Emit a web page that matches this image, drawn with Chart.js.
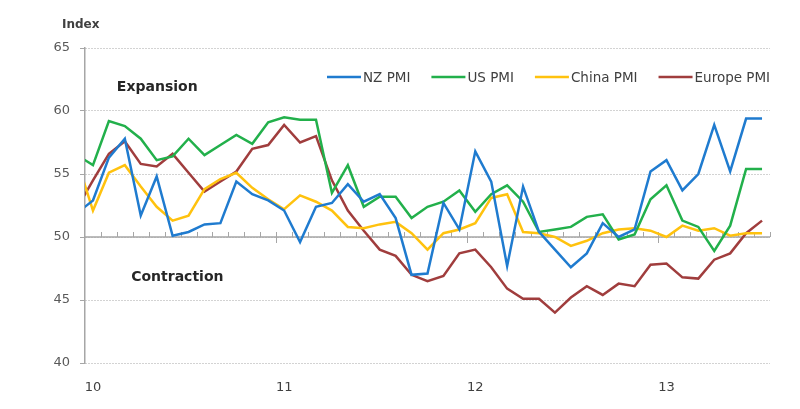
<!DOCTYPE html>
<html>
<head>
<meta charset="utf-8">
<script src="https://cdn.jsdelivr.net/npm/chart.js@4.4.1/dist/chart.umd.min.js"></script>
<style>
  html, body { margin: 0; padding: 0; background: #fff; }
  #wrap { width: 800px; height: 409px; }
</style>
</head>
<body>
<div id="wrap"><canvas id="pmiChart" width="800" height="409"></canvas></div>
<script>
// monthly PMI readings, Dec 2009 .. Jul 2013 (Dec 09 only shows as the clipped first segment)
var firstYear = 2009, firstMonth = 12;
var nzPmi = [51.9,
  52.9, 56.3, 57.8, 51.7, 54.8, 50.1, 50.4, 51.0, 51.1, 54.4, 53.4, 52.9,
  52.1, 49.6, 52.4, 52.7, 54.2, 52.8, 53.4, 51.5, 47.0, 47.1, 52.7, 50.6,
  56.8, 54.4, 47.7, 54.0, 50.4, 49.0, 47.6, 48.7, 51.1, 50.0, 50.6, 55.2,
  56.1, 53.7, 55.0, 58.9, 55.2, 59.4, 59.4];
var usPmi = [56.5,
  55.7, 59.2, 58.8, 57.8, 56.1, 56.4, 57.8, 56.5, 57.3, 58.1, 57.4, 59.1,
  59.5, 59.3, 59.3, 53.5, 55.7, 52.4, 53.2, 53.2, 51.5, 52.4, 52.8, 53.7,
  52.0, 53.4, 54.1, 52.8, 50.4, 50.6, 50.8, 51.6, 51.8, 49.8, 50.2, 53.0,
  54.1, 51.3, 50.8, 48.9, 50.9, 55.4, 55.4];
var chinaPmi = [56.1,
  52.1, 55.1, 55.7, 54.0, 52.4, 51.3, 51.7, 53.8, 54.6, 55.1, 53.9, 53.0,
  52.2, 53.3, 52.8, 52.1, 50.8, 50.7, 51.0, 51.2, 50.3, 49.0, 50.3, 50.6,
  51.1, 53.1, 53.4, 50.4, 50.3, 50.0, 49.3, 49.7, 50.3, 50.6, 50.7, 50.5,
  50.0, 50.9, 50.5, 50.7, 50.1, 50.3, 50.3];
var europePmi = [52.3,
  54.5, 56.6, 57.6, 55.8, 55.6, 56.6, 55.1, 53.6, 54.4, 55.2, 57.0, 57.3,
  58.9, 57.5, 58.0, 54.5, 52.1, 50.5, 49.0, 48.5, 47.0, 46.5, 46.9, 48.7,
  49.0, 47.6, 45.9, 45.1, 45.1, 44.0, 45.2, 46.1, 45.4, 46.3, 46.1, 47.8,
  47.9, 46.8, 46.7, 48.2, 48.7, 50.3, 51.3];
var yearLabels = ['10', '11', '12', '13'];
var yTicks = [40, 45, 50, 55, 60, 65];

var seriesNames = ['NZ PMI', 'US PMI', 'China PMI', 'Europe PMI'];
var seriesColors = ['#1f7bcf', '#22b04b', '#ffc20e', '#a03d3d'];

// x value of a month = months since Jan 2010 plus half a month (points sit mid-month)
function monthX(i) {
  var m = (firstYear - 2010) * 12 + (firstMonth - 1) + i;
  return m + 0.5;
}
function toPoints(arr) {
  return arr.map(function(v, i) { return { x: monthX(i), y: v }; });
}

var textFont = '"DejaVu Sans", Verdana, sans-serif';

// horizontal axis crossing at 50, with month ticks
var midAxis = {
  id: 'midAxis',
  beforeDatasetsDraw: function(chart) {
    var ctx = chart.ctx, x = chart.scales.x, y = chart.scales.y;
    var y50 = y.getPixelForValue(50);
    ctx.save();
    ctx.strokeStyle = '#a6a6a6';
    ctx.lineWidth = 1.5;
    ctx.beginPath();
    ctx.moveTo(x.left, y50);
    ctx.lineTo(x.right, y50);
    ctx.stroke();
    ctx.lineWidth = 1;
    ctx.beginPath();
    for (var m = 1; m <= x.max; m++) {
      var px = Math.round(x.getPixelForValue(m)) + 0.5;
      var major = (m % 12 === 0);
      ctx.moveTo(px, y50 - 5);
      ctx.lineTo(px, major ? y50 + 6 : y50);
    }
    ctx.stroke();
    ctx.restore();
  }
};

// legend inside the plot plus the free text labels
var labelsPlugin = {
  id: 'labelsPlugin',
  afterDraw: function(chart) {
    var ctx = chart.ctx, x = chart.scales.x, y = chart.scales.y;
    ctx.save();
    ctx.textBaseline = 'middle';

    ctx.fillStyle = '#404040';
    ctx.font = 'bold 12px ' + textFont;
    ctx.textAlign = 'left';
    ctx.fillText('Index', 62, 25);

    ctx.fillStyle = '#262626';
    ctx.font = 'bold 14px ' + textFont;
    ctx.fillText('Expansion', x.getPixelForValue(2), y.getPixelForValue(61.9));
    ctx.fillText('Contraction', x.getPixelForValue(2.9), y.getPixelForValue(46.8));

    // legend
    ctx.font = '13.5px ' + textFont;
    var lx = 327, ly = 77;
    chart.data.datasets.forEach(function(ds) {
      ctx.strokeStyle = ds.borderColor;
      ctx.lineWidth = 2.5;
      ctx.beginPath();
      ctx.moveTo(lx, ly);
      ctx.lineTo(lx + 34, ly);
      ctx.stroke();
      ctx.fillStyle = '#404040';
      ctx.fillText(ds.label, lx + 36, ly + 1);
      lx += 36 + ctx.measureText(ds.label).width + 21;
    });
    ctx.restore();
  }
};

var allSeries = [nzPmi, usPmi, chinaPmi, europePmi];
var datasets = allSeries.map(function(arr, k) {
  return {
    label: seriesNames[k],
    data: toPoints(arr),
    borderColor: seriesColors[k],
    backgroundColor: seriesColors[k],
    borderWidth: 2.5,
    pointRadius: 0,
    tension: 0,
    fill: false
  };
});

var ctx = document.getElementById('pmiChart').getContext('2d');
var chart = new Chart(ctx, {
  type: 'line',
  data: { datasets: datasets },
  options: {
    responsive: false,
    animation: false,
    devicePixelRatio: 1,
    layout: { padding: { top: 48, right: 30, left: 0, bottom: 0 } },
    plugins: {
      legend: { display: false },
      tooltip: { enabled: false }
    },
    scales: {
      x: {
        type: 'linear',
        min: 0,
        max: 43,
        afterFit: function(s) { s.height = 46; },
        afterBuildTicks: function(s) {
          s.ticks = yearLabels.map(function(t, i) { return { value: i * 12 }; });
        },
        ticks: {
          autoSkip: false,
          maxRotation: 0,
          padding: 17,
          labelOffset: 8,
          color: '#404040',
          font: { family: textFont, size: 13 },
          callback: function(v) { return yearLabels[v / 12]; }
        },
        grid: { display: false, drawTicks: false },
        border: { display: false }
      },
      y: {
        min: 40,
        max: 65,
        afterFit: function(s) { s.width = 85; },
        afterBuildTicks: function(s) {
          s.ticks = yTicks.map(function(v) { return { value: v }; });
        },
        ticks: {
          padding: 10,
          color: '#595959',
          font: { family: textFont, size: 13 }
        },
        grid: {
          color: '#a6a6a6',
          lineWidth: 1,
          tickLength: 5,
          tickColor: '#a6a6a6',
          tickBorderDash: []
        },
        border: { display: true, color: '#a6a6a6', width: 1.5, dash: [1, 2] }
      }
    }
  },
  plugins: [midAxis, labelsPlugin]
});
</script>
</body>
</html>
